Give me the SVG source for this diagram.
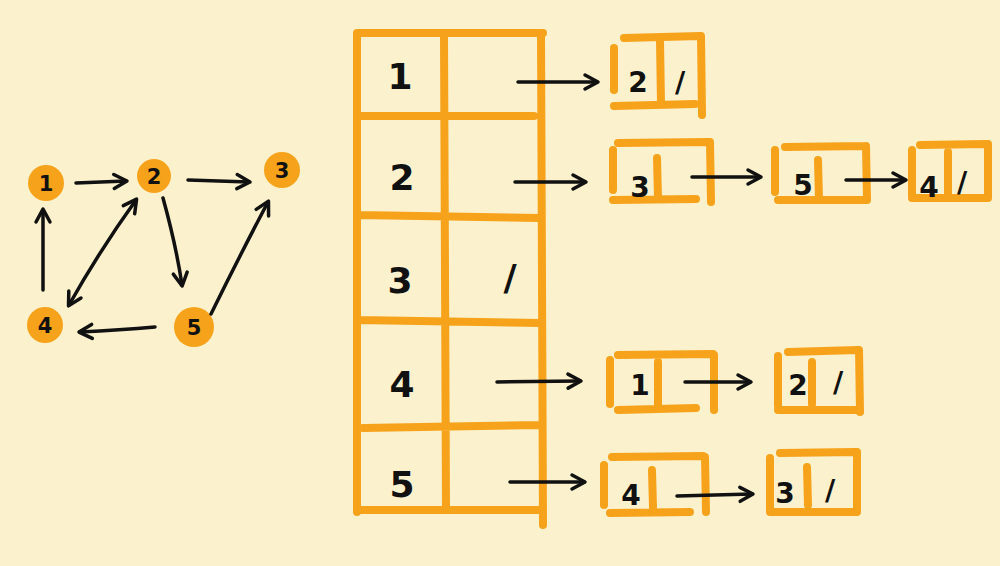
<svg xmlns="http://www.w3.org/2000/svg" width="1000" height="566" viewBox="0 0 1000 566">
<defs>
<marker id="ah" viewBox="0 0 20 20" refX="15" refY="10" markerWidth="20" markerHeight="20" markerUnits="userSpaceOnUse" orient="auto-start-reverse">
<path d="M3,3 L16,10 L3,17" fill="none" stroke="#111" stroke-width="3.5" stroke-linecap="round" stroke-linejoin="round"/>
</marker>
<style>
.o{fill:none;stroke:#F7A21B;stroke-width:8;stroke-linecap:round;stroke-linejoin:round}
.c{fill:#F7A21B}
.a{fill:none;stroke:#111;stroke-width:3.5;stroke-linecap:round;marker-end:url(#ah)}
.b{marker-start:url(#ah)}
.t{font-family:"DejaVu Sans",sans-serif;fill:#111;text-anchor:middle;font-weight:bold}
.big{font-size:36px}
.mid{font-size:28px}
.sm{font-size:21px}
</style>
</defs>
<rect width="1000" height="566" fill="#FBF2CD"/>

<g id="graph-nodes">
<g id="n1"><circle class="c" cx="46" cy="183" r="18"/><text class="t sm" x="46" y="191">1</text></g>
<g id="n2"><circle class="c" cx="154" cy="176" r="17"/><text class="t sm" x="154" y="184">2</text></g>
<g id="n3"><circle class="c" cx="282" cy="170" r="18"/><text class="t sm" x="282" y="178">3</text></g>
<g id="n4"><circle class="c" cx="45" cy="325" r="18"/><text class="t sm" x="45" y="333">4</text></g>
<g id="n5"><circle class="c" cx="194" cy="327" r="20"/><text class="t sm" x="194" y="335">5</text></g>
</g>

<g id="table">
<path class="o" d="M357,33 L543,33 M357,33 L357,512 M541,33 L543,525 M444,35 L446,510 M358,116 L534,116 M358,215 L540,218 M358,320 L540,323 M363,428 L540,425 M357,510 L541,510"/>
<text class="t big" x="400" y="89">1</text>
<text class="t big" x="402" y="190">2</text>
<text class="t big" x="400" y="293">3</text>
<text class="t big" x="402" y="397">4</text>
<text class="t big" x="402" y="497">5</text>
<text class="t big" x="510" y="290">/</text>
</g>

<g id="list1-2">
<path class="o" d="M614,48 L614,90 M624,38 L700,36 M701,36 L702,115 M614,106 L695,104 M660,40 L661,104"/>
<text class="t mid" x="638" y="92">2</text><text class="t mid" x="680" y="92">/</text>
</g>
<g id="list2-3">
<path class="o" d="M613,150 L613,190 M618,143 L708,142 M710,142 L711,202 M613,200 L696,199 M657,158 L658,199"/>
<text class="t mid" x="640" y="197">3</text>
</g>
<g id="list2-5">
<path class="o" d="M775,150 L775,192 M785,147 L866,146 M866,146 L867,200 M778,200 L866,200 M818,160 L819,200"/>
<text class="t mid" x="803" y="195">5</text>
</g>
<g id="list2-4">
<path class="o" d="M912,150 L912,196 M920,145 L986,144 M988,144 L988,198 M912,198 L985,198 M948,152 L948,198"/>
<text class="t mid" x="929" y="197">4</text><text class="t mid" x="962" y="192">/</text>
</g>
<g id="list4-1">
<path class="o" d="M610,360 L610,404 M618,355 L713,354 M714,355 L714,410 M618,410 L696,408 M658,362 L658,408"/>
<text class="t mid" x="640" y="395">1</text>
</g>
<g id="list4-2">
<path class="o" d="M778,356 L778,406 M788,352 L858,350 M859,350 L860,412 M778,410 L858,410 M812,362 L812,404"/>
<text class="t mid" x="798" y="395">2</text><text class="t mid" x="838" y="392">/</text>
</g>
<g id="list5-4">
<path class="o" d="M604,465 L604,505 M612,457 L703,456 M705,457 L706,512 M610,513 L690,512 M652,470 L653,508"/>
<text class="t mid" x="631" y="505">4</text>
</g>
<g id="list5-3">
<path class="o" d="M770,458 L770,510 M780,453 L855,452 M857,452 L857,512 M770,512 L855,512 M807,467 L808,505"/>
<text class="t mid" x="785" y="503">3</text><text class="t mid" x="830" y="500">/</text>
</g>

<g id="connectors">
<path class="a" d="M76,183 L126,181"/>
<path class="a" d="M188,180 L249,182"/>
<path class="a" d="M163,198 Q176,245 182,285"/>
<path class="a" d="M211,314 Q240,255 268,202"/>
<path class="a b" d="M69,305 Q100,250 136,200"/>
<path class="a" d="M155,327 Q120,330 80,332"/>
<path class="a" d="M43,290 L43,210"/>
<path class="a" d="M518,82 L597,82"/>
<path class="a" d="M515,182 L585,182"/>
<path class="a" d="M497,382 L580,381"/>
<path class="a" d="M510,482 L584,482"/>
<path class="a" d="M692,177 L760,177"/>
<path class="a" d="M846,180 L905,180"/>
<path class="a" d="M685,382 L750,382"/>
<path class="a" d="M677,496 L752,494"/>
</g>
</svg>
